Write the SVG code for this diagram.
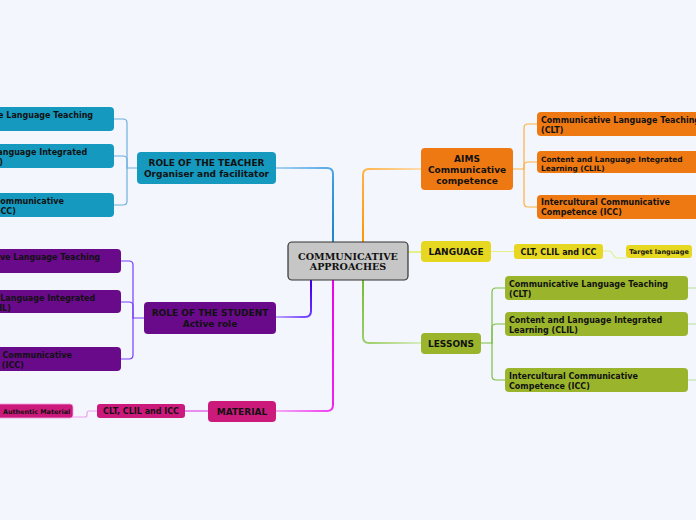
<svg xmlns="http://www.w3.org/2000/svg" width="696" height="520" viewBox="0 0 696 520">
<style>
.t{font-family:"DejaVu Sans",Verdana,sans-serif;font-weight:bold;fill:#111;}
.m{font-size:9px;text-anchor:middle;}
.s{font-size:8px;}
.c{fill:none;stroke-width:1.2;stroke-linecap:round;}
.k{fill:none;stroke-width:2;stroke-linecap:round;}
.main{font-family:"DejaVu Serif",Georgia,serif;font-weight:bold;font-size:9.6px;text-anchor:middle;fill:#111;}
</style>
<defs>
<linearGradient id="gT" gradientUnits="userSpaceOnUse" x1="276" y1="168" x2="333" y2="230"><stop offset="0" stop-color="#a6d2f2"/><stop offset="0.6" stop-color="#3a9ae0"/><stop offset="1" stop-color="#1f88cc"/></linearGradient>
<linearGradient id="gS" gradientUnits="userSpaceOnUse" x1="311" y1="285" x2="276" y2="317"><stop offset="0" stop-color="#4000f0"/><stop offset="0.5" stop-color="#7040ff"/><stop offset="1" stop-color="#bfa6ff"/></linearGradient>
<linearGradient id="gM" gradientUnits="userSpaceOnUse" x1="333" y1="280" x2="276" y2="411"><stop offset="0" stop-color="#ee00ee"/><stop offset="0.8" stop-color="#ee22ee"/><stop offset="1" stop-color="#f4a8f4"/></linearGradient>
<linearGradient id="gA" gradientUnits="userSpaceOnUse" x1="363" y1="242" x2="421" y2="169"><stop offset="0" stop-color="#ff9500"/><stop offset="0.6" stop-color="#ffb347"/><stop offset="1" stop-color="#ffdcb0"/></linearGradient>
<linearGradient id="gL" gradientUnits="userSpaceOnUse" x1="363" y1="280" x2="421" y2="343"><stop offset="0" stop-color="#78bb38"/><stop offset="0.6" stop-color="#a0d070"/><stop offset="1" stop-color="#d8ecc0"/></linearGradient>
</defs>
<rect width="696" height="520" fill="#f3f6fd"/>
<g id="connectors">
<path class="k" stroke="url(#gT)" d="M276,168 H327 Q333,168 333,174 V242"/>
<path class="k" stroke="url(#gS)" d="M311,280 V311 Q311,317 305,317 H276"/>
<path class="k" stroke="url(#gM)" d="M333,280 V405 Q333,411 327,411 H276"/>
<path class="k" stroke="url(#gA)" d="M363,242 V175 Q363,169 369,169 H421"/>
<path class="k" stroke="#e4f08a" d="M408,252 H421"/>
<path class="k" stroke="url(#gL)" d="M363,280 V337 Q363,343 369,343 H421"/>
<g stroke="#6fb0de">
<path class="c" d="M137,168 H127 V123 Q127,119 123,119 H114"/>
<path class="c" d="M127,168 V160 Q127,156 123,156 H114"/>
<path class="c" d="M127,168 V201 Q127,205 123,205 H114"/>
</g>
<g stroke="#7a3cff">
<path class="c" d="M144,318 H133 V265 Q133,261 129,261 H121"/>
<path class="c" d="M133,318 V306 Q133,302 129,302 H121"/>
<path class="c" d="M133,318 V355 Q133,359 129,359 H121"/>
</g>
<path class="c" stroke="#dd22dd" d="M208,411 H185"/>
<path class="c" stroke="#f0a0f0" d="M97,411 H89 Q87,411 87,413 V415 Q87,417 85,417 H73"/>
<g stroke="#ffb040">
<path class="c" d="M513,169 H524 V128 Q524,124 528,124 H537"/>
<path class="c" d="M524,169 V166 Q524,162 528,162 H537"/>
<path class="c" d="M524,169 V203 Q524,207 528,207 H537"/>
</g>
<path class="c" stroke="#e4f08a" d="M491,251.5 H514"/>
<path class="c" stroke="#e4f08a" d="M603,251 H609 Q611,251 612,253 L614,256 Q615,258 617,258 H626"/>
<g stroke="#7fbf45">
<path class="c" d="M481,343 H492 V292 Q492,288 496,288 H505"/>
<path class="c" d="M492,343 V328 Q492,324 496,324 H505"/>
<path class="c" d="M492,343 V376 Q492,380 496,380 H505"/>
</g>
<g stroke="#b8de98">
<path class="c" d="M688,288 H696"/>
<path class="c" d="M688,324 H696"/>
<path class="c" d="M688,380 H696"/>
</g>
</g>
<g id="center">
<rect x="288" y="242" width="120" height="38" rx="4" fill="#c6c6c6" stroke="#333" stroke-width="1.2"/>
<text class="main" x="348" y="259.5">COMMUNICATIVE</text>
<text class="main" x="348" y="269.8">APPROACHES</text>
</g>
<g id="teacher">
<rect x="137" y="152" width="139" height="32" rx="4" fill="#1599bf"/>
<text class="t m" x="206.5" y="166">ROLE OF THE TEACHER</text>
<text class="t m" x="206.5" y="176.5">Organiser and facilitator</text>
</g>
<g id="teacher-clt">
<rect x="-80" y="107" width="194" height="24" rx="4" fill="#1599bf"/>
<text class="t s" x="-66" y="118">Communicative Language Teaching</text>
<text class="t s" x="-66" y="127.5">(CLT)</text>
</g>
<g id="teacher-clil">
<rect x="-80" y="144" width="194" height="24" rx="4" fill="#1599bf"/>
<text class="t s" x="-66" y="155">Content and Language Integrated</text>
<text class="t s" x="-66" y="164.5">Learning (CLIL)</text>
</g>
<g id="teacher-icc">
<rect x="-80" y="193" width="194" height="24" rx="4" fill="#1599bf"/>
<text class="t s" x="-65" y="204">Intercultural Communicative</text>
<text class="t s" x="-65" y="213.5">Competence (ICC)</text>
</g>
<g id="student">
<rect x="144" y="302" width="132" height="32" rx="4" fill="#690a8a"/>
<text class="t m" x="210" y="316">ROLE OF THE STUDENT</text>
<text class="t m" x="210" y="327">Active role</text>
</g>
<g id="student-clt">
<rect x="-80" y="249" width="201" height="24" rx="4" fill="#690a8a"/>
<text class="t s" x="-59" y="260">Communicative Language Teaching</text>
<text class="t s" x="-59" y="269.5">(CLT)</text>
</g>
<g id="student-clil">
<rect x="-80" y="290" width="201" height="23" rx="4" fill="#690a8a"/>
<text class="t s" x="-58" y="301">Content and Language Integrated</text>
<text class="t s" x="-58" y="310.5">Learning (CLIL)</text>
</g>
<g id="student-icc">
<rect x="-80" y="347" width="201" height="24" rx="4" fill="#690a8a"/>
<text class="t s" x="-57" y="358">Intercultural Communicative</text>
<text class="t s" x="-57" y="367.5">Competence (ICC)</text>
</g>
<g id="material">
<rect x="208" y="401" width="68" height="21" rx="4" fill="#cc1a7c"/>
<text class="t m" x="242" y="414.8">MATERIAL</text>
</g>
<g id="material-clt">
<rect x="97" y="404" width="88" height="14" rx="3" fill="#cc1a7c"/>
<text class="t s" x="141" y="414" text-anchor="middle">CLT, CLIL and ICC</text>
</g>
<g id="authentic">
<rect x="-10" y="404" width="83" height="14" rx="3" fill="#cc1a7c" stroke="#f0a0e0" stroke-width="0.8"/>
<text class="t" x="3" y="413.5" font-size="6.4">Authentic Material</text>
</g>
<g id="aims">
<rect x="421" y="148" width="92" height="42" rx="4" fill="#ee7912"/>
<text class="t m" x="467" y="162">AIMS</text>
<text class="t m" x="467" y="173">Communicative</text>
<text class="t m" x="467" y="184">competence</text>
</g>
<g id="aims-clt">
<rect x="537" y="112" width="180" height="24" rx="4" fill="#ee7912"/>
<text class="t s" x="541" y="123">Communicative Language Teaching</text>
<text class="t s" x="541" y="132.5">(CLT)</text>
</g>
<g id="aims-clil">
<rect x="537" y="151" width="180" height="22" rx="4" fill="#ee7912"/>
<text class="t" x="541" y="161.5" font-size="7.4">Content and Language Integrated</text>
<text class="t" x="541" y="170.5" font-size="7.4">Learning (CLIL)</text>
</g>
<g id="aims-icc">
<rect x="537" y="195" width="180" height="24" rx="4" fill="#ee7912"/>
<text class="t s" x="541" y="205">Intercultural Communicative</text>
<text class="t s" x="541" y="215">Competence (ICC)</text>
</g>
<g id="language">
<rect x="421" y="241" width="70" height="21" rx="4" fill="#e6d820"/>
<text class="t m" x="456" y="254.8">LANGUAGE</text>
</g>
<g id="language-clt">
<rect x="514" y="244" width="89" height="15" rx="3" fill="#e6d820"/>
<text class="t s" x="558.5" y="254.5" text-anchor="middle">CLT, CLIL and ICC</text>
</g>
<g id="target">
<rect x="626" y="245" width="66" height="13" rx="3" fill="#e6d820"/>
<text class="t" x="659" y="254" font-size="6.5" text-anchor="middle">Target language</text>
</g>
<g id="lessons">
<rect x="421" y="333" width="60" height="21" rx="4" fill="#9ab52c"/>
<text class="t m" x="451" y="347">LESSONS</text>
</g>
<g id="lessons-clt">
<rect x="505" y="276" width="183" height="24" rx="4" fill="#9ab52c"/>
<text class="t s" x="509" y="287">Communicative Language Teaching</text>
<text class="t s" x="509" y="296.5">(CLT)</text>
</g>
<g id="lessons-clil">
<rect x="505" y="312" width="183" height="24" rx="4" fill="#9ab52c"/>
<text class="t s" x="509" y="323">Content and Language Integrated</text>
<text class="t s" x="509" y="332.5">Learning (CLIL)</text>
</g>
<g id="lessons-icc">
<rect x="505" y="368" width="183" height="24" rx="4" fill="#9ab52c"/>
<text class="t s" x="509" y="379">Intercultural Communicative</text>
<text class="t s" x="509" y="388.5">Competence (ICC)</text>
</g>
</svg>
